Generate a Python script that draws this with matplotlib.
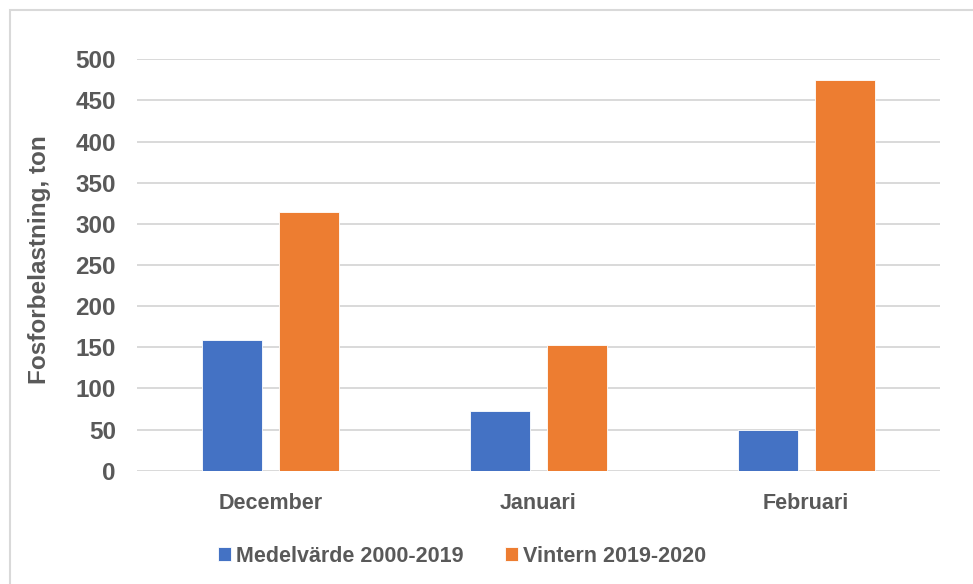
import numpy as np
import matplotlib
matplotlib.use("Agg")
import matplotlib.pyplot as plt
from matplotlib.patches import Rectangle

# data
months = ["December", "Januari", "Februari"]
medel = [158.5, 72, 50]
vintern = [314, 153, 475]
series_names = ["Medelvärde 2000-2019", "Vintern 2019-2020"]
yticks = list(range(0, 501, 50))

BLUE = "#4472C4"
ORANGE = "#ED7D31"
GREY = "#595959"
GRID = "#D9D9D9"

plt.rcParams["font.family"] = ["Liberation Sans", "DejaVu Sans"]
plt.rcParams["font.weight"] = "bold"

W, H = 973, 584
fig = plt.figure(figsize=(W / 100, H / 100), dpi=100)
fig.patch.set_facecolor("white")

# light outer frame (top/left visible, runs off right and bottom)
fig.patches.append(Rectangle((10 / W, -0.05), 1.2, 1 - 10 / H + 0.05,
                             transform=fig.transFigure, fill=False,
                             edgecolor="#D9D9D9", linewidth=1.5))

ax = fig.add_axes([136.7 / W, 1 - 470.7 / H, (940 - 136.7) / W, (470.7 - 59.3) / H])
x = np.arange(len(months))
bw, off = 0.224, 0.1435
ax.bar(x - off, medel, bw, color=BLUE, edgecolor="white", linewidth=0.6,
       label=series_names[0], zorder=3)
ax.bar(x + off, vintern, bw, color=ORANGE, edgecolor="white", linewidth=0.6,
       label=series_names[1], zorder=3)

ax.set_xlim(-0.5, len(months) - 0.5)
ax.set_ylim(0, 500)
ax.set_yticks(yticks)
ax.set_yticklabels([str(t) for t in yticks], fontsize=17.5, color=GREY, fontweight="bold")
ax.set_xticks(x)
ax.set_xticklabels(months, fontsize=15.5, color=GREY, fontweight="bold")
ax.tick_params(axis="both", length=0)
ax.tick_params(axis="y", pad=15)
ax.tick_params(axis="x", pad=16)
ax.yaxis.grid(True, color=GRID, linewidth=1.4, zorder=0)
ax.set_axisbelow(True)
for s in ax.spines.values():
    s.set_visible(False)

fig.text(40 / W, 1 - 260 / H, "Fosforbelastning, ton", rotation=90, ha="center",
         va="center", fontsize=17.5, color=GREY, fontweight="bold")

leg = fig.legend(loc="center", bbox_to_anchor=(462 / W, 1 - 556 / H), ncol=2,
                 frameon=False, fontsize=15.5, handlelength=0.6, handleheight=0.6,
                 handletextpad=0.25, columnspacing=1.9)
for t in leg.get_texts():
    t.set_color(GREY)
    t.set_fontweight("bold")

fig.savefig("out.png", dpi=100)
